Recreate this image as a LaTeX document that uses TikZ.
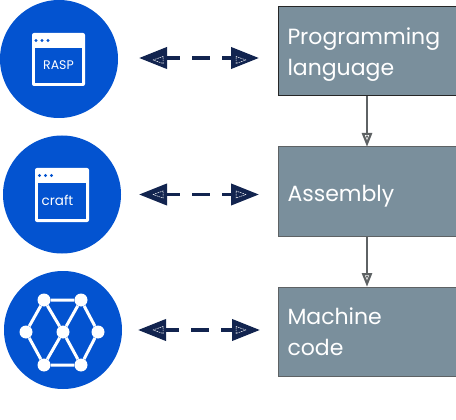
\documentclass[tikz,border=0pt]{standalone}
\usepackage{fontspec}
\setmainfont{Poppins}
\usetikzlibrary{arrows.meta,calc}
\definecolor{disc}{HTML}{0353D0}
\definecolor{navy}{HTML}{12244F}
\definecolor{slate}{HTML}{7A8F9C}
\definecolor{edgegray}{HTML}{5E6264}
\tikzset{
  x=1pt,y=-1pt,
  disk/.style={circle,fill=disc,minimum size=118pt,inner sep=0pt,outer sep=0pt},
  level/.style={rectangle,fill=slate,draw=edgegray,line width=1pt,minimum width=178pt,minimum height=89pt,inner sep=0pt,outer sep=0pt,
    text=white,font=\fontsize{22}{31}\selectfont,align=left,text width=159pt},
  win/.style={rectangle,rounded corners=2pt,fill=white,inner sep=0pt,outer sep=0pt},
  winpane/.style={rectangle,fill=disc,inner sep=0pt,outer sep=0pt},
  windot/.style={circle,fill=disc,minimum size=3.2pt,inner sep=0pt},
  wintext/.style={text=white,inner sep=0pt},
  biarrow/.style={navy,line width=3.8pt,dash pattern=on 18pt off 12pt,dash phase=4pt,
    {Triangle[length=28pt,width=21pt]}-{Triangle[length=28pt,width=21pt]}},
  downarrow/.style={edgegray,line width=2.8pt,-{Triangle[length=14pt,width=10pt]}},
  innermark/.style={white,line width=.5pt,dash pattern=on 1.5pt off .8pt},
  netdot/.style={circle,fill=white,minimum size=13pt,inner sep=0pt},
  netline/.style={white,line width=3pt},
}
\begin{document}
\begin{tikzpicture}
\useasboundingbox (0,0) rectangle (456,420);
\node[disk] (c1) at (59,59) {};
\node[disk] (c2) at (62,194.5) {};
\node[disk] (c3) at (63,330) {};
\node[level,draw=black!85] (b1) at (367,51.5) {\rule{0pt}{23pt}Programming\\language};
\node[level] (b2) at (367,191.5) {\rule{0pt}{26pt}Assembly};
\node[level] (b3) at (367,331.5) {Machine\\code};
% window 1
\node[win,minimum width=53pt,minimum height=53pt] (w1) at (58.5,59.5) {};
\node[winpane,minimum width=47pt,minimum height=35pt] (p1) at (58.5,65.5) {};
\node[windot] (d11) at (36,40.5) {};
\node[windot] (d12) at (42,40.5) {};
\node[windot] (d13) at (48,40.5) {};
\node[wintext,font=\fontsize{12.5}{14}\selectfont] (t1) at (p1) {RASP};
% window 2
\node[win,minimum width=54pt,minimum height=54pt] (w2) at (62,195) {};
\node[winpane,minimum width=48pt,minimum height=36pt] (p2) at (62,201) {};
\node[windot] (d21) at (39.5,175.5) {};
\node[windot] (d22) at (45.5,175.5) {};
\node[windot] (d23) at (51.5,175.5) {};
\node[wintext,font=\fontsize{13.5}{16}\selectfont] (t2) at (57.5,200) {craft};
% network
\node[netdot] (n1) at (44,300) {};
\node[netdot] (n2) at (81,300) {};
\node[netdot] (n3) at (26,332) {};
\node[netdot] (n4) at (63,332) {};
\node[netdot] (n5) at (98,332) {};
\node[netdot] (n6) at (44,365) {};
\node[netdot] (n7) at (81,365) {};
\draw[netline] (n1)--(n2) (n1)--(n3) (n2)--(n5) (n3)--(n6) (n5)--(n7) (n6)--(n7)
  (n1)--(n4) (n2)--(n4) (n6)--(n4) (n7)--(n4);
% double arrows
\draw[biarrow,shorten <=21pt,shorten >=19pt] ([yshift=1pt]c1.east) -- ([yshift=1pt]c1.east -| b1.west);
\draw[biarrow,shorten <=18pt,shorten >=19pt] (c2.east) -- (c2.east -| b2.west);
\draw[biarrow,shorten <=16pt,shorten >=18pt] (c3.east) -- (c3.east -| b3.west);
% down arrows
\draw[downarrow] (b1.south) -- (b2.north);
\draw[downarrow] (b2.south) -- (b3.north);
% inner marks
\foreach \yy in {60,194.5,330}{
  \draw[innermark] (153,\yy) -- (163,\yy-3.5) -- (163,\yy+3.5) -- cycle;
  \draw[innermark] (246,\yy) -- (236,\yy-3.5) -- (236,\yy+3.5) -- cycle;
}
\foreach \yy in {135.5,275.5}{
  \draw[white,line width=.5pt] (365.3,\yy) -- (368.7,\yy) -- (367,\yy+4) -- cycle;
}
\end{tikzpicture}
\end{document}
